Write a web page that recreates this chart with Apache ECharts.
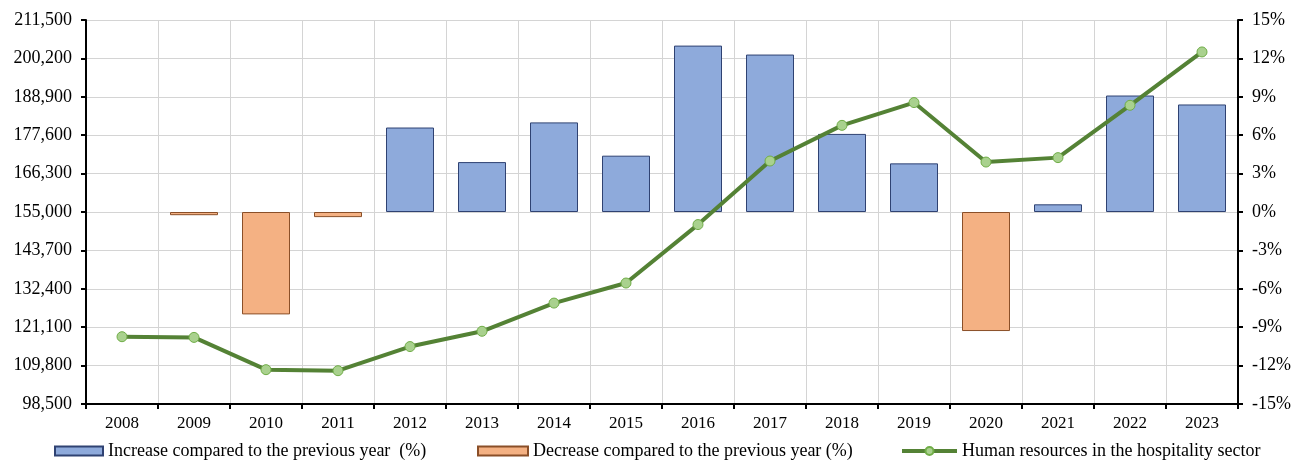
<!DOCTYPE html>
<html>
<head>
<meta charset="utf-8">
<script src="https://cdn.jsdelivr.net/npm/echarts@6/dist/echarts.min.js"></script>
<style>
html,body{margin:0;padding:0;background:#fff;}
#chart{width:1303px;height:461px;}
</style>
</head>
<body>
<div id="chart"></div>
<script>
const years = ['2008','2009','2010','2011','2012','2013','2014','2015','2016','2017','2018','2019','2020','2021','2022','2023'];
const increasePct = [null, null, null, null, 6.6, 3.9, 7.0, 4.4, 13.0, 12.3, 6.1, 3.8, null, 0.6, 9.1, 8.4];
const decreasePct = [null, -0.25, -8.0, -0.4, null, null, null, null, null, null, null, null, -9.3, null, null, null];
const humanResources = [118300, 118100, 108600, 108300, 115400, 119900, 128200, 134100, 151300, 170000, 180500, 187200, 169700, 171000, 186400, 202100];
const seriesNames = ['Increase compared to the previous year  (%)', 'Decrease compared to the previous year (%)', 'Human resources in the hospitality sector'];

const FONT = '"Liberation Serif", "Times New Roman", serif';
const chart = echarts.init(document.getElementById('chart'));
const legendText = {fontFamily: FONT, fontSize: 18, color: '#000'};
chart.setOption({
  animation: false,
  backgroundColor: '#fff',
  grid: {left: 86, right: 65, top: 20, bottom: 57, containLabel: false},
  legend: [
    {data: [{name: seriesNames[0], icon: 'rect'}], left: 54, top: 442, padding: 0, itemWidth: 48, itemHeight: 9, itemGap: 8, textStyle: legendText},
    {data: [{name: seriesNames[1], icon: 'rect'}], left: 477, top: 442, padding: 0, itemWidth: 50, itemHeight: 9, itemGap: 5, textStyle: legendText},
    {data: [seriesNames[2]], left: 900, top: 442, padding: 0, itemWidth: 55, itemHeight: 10, itemGap: 3, textStyle: legendText,
     lineStyle: {width: 4, color: '#548235'}}
  ],
  xAxis: {
    type: 'category',
    data: years,
    boundaryGap: true,
    axisLine: {onZero: false, lineStyle: {color: '#000', width: 2}},
    axisTick: {show: true, inside: false, length: 5, lineStyle: {color: '#000', width: 2}, alignWithLabel: false},
    axisLabel: {fontFamily: FONT, fontSize: 17, color: '#000', margin: 11},
    splitLine: {show: true, lineStyle: {color: '#d4d4d4', width: 1}}
  },
  yAxis: [
    {
      type: 'value', position: 'left',
      min: 98500, max: 211500, interval: 11300,
      axisLine: {show: true, lineStyle: {color: '#000', width: 2}},
      axisTick: {show: true, length: 5, lineStyle: {color: '#000', width: 2}},
      axisLabel: {fontFamily: FONT, fontSize: 18, color: '#000', margin: 14,
        formatter: v => v.toLocaleString('en-US')},
      splitLine: {show: true, lineStyle: {color: '#d4d4d4', width: 1}}
    },
    {
      type: 'value', position: 'right',
      min: -15, max: 15, interval: 3,
      axisLine: {show: true, lineStyle: {color: '#000', width: 2}},
      axisTick: {show: true, length: 5, lineStyle: {color: '#000', width: 2}},
      axisLabel: {fontFamily: FONT, fontSize: 18, color: '#000', margin: 14, formatter: '{value}%'},
      splitLine: {show: false}
    }
  ],
  series: [
    {
      name: seriesNames[0], type: 'bar', yAxisIndex: 1, data: increasePct,
      barWidth: 48, barGap: '-100%',
      itemStyle: {color: '#8eaadb', borderColor: '#2f4272', borderWidth: 1}
    },
    {
      name: seriesNames[1], type: 'bar', yAxisIndex: 1, data: decreasePct,
      barWidth: 48, barGap: '-100%',
      itemStyle: {color: '#f4b183', borderColor: '#8a4f28', borderWidth: 1}
    },
    {
      name: seriesNames[2], type: 'line', yAxisIndex: 0, data: humanResources,
      symbol: 'circle', symbolSize: 10,
      lineStyle: {color: '#548235', width: 4},
      itemStyle: {color: '#a9d18e', borderColor: '#70ad47', borderWidth: 1},
      z: 5
    }
  ]
});
</script>
</body>
</html>
